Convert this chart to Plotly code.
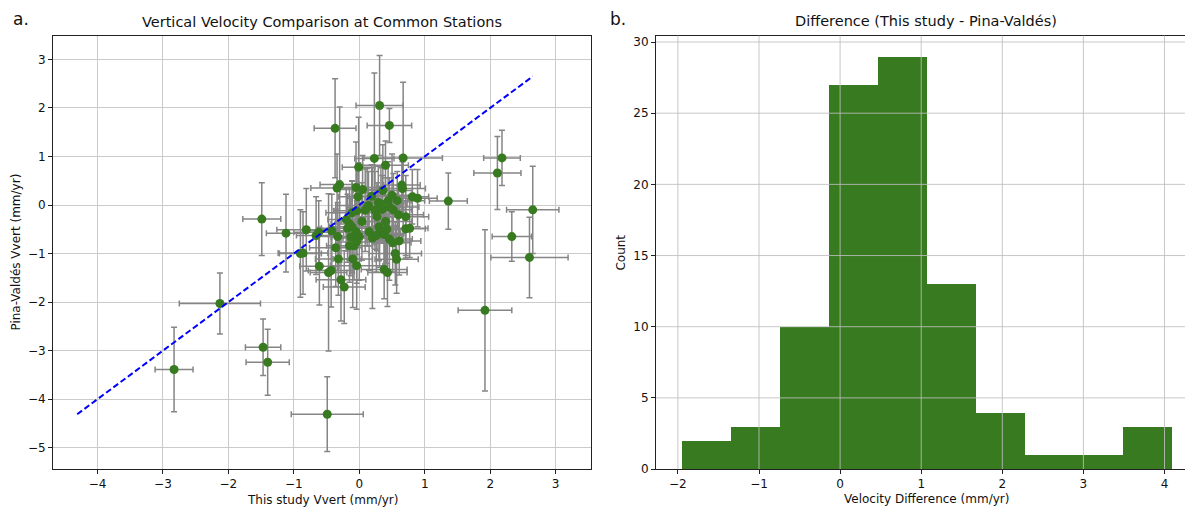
import numpy as np
import plotly.graph_objects as go

# ---------------- data ----------------
this_study = [
    -2.83, -2.13, -1.47, -1.40, -0.49, -1.49, 2.18, 2.11, 2.65, 2.60, 2.33, 1.92, -0.37, 0.46, 0.31,
    0.23, 0.67, -0.01, 0.40, -0.30, -0.34, -0.05, 0.65, 0.66, 0.36,
    -0.02, 0.19, 0.81, 0.89, 1.36, 0.44, 0.58, 0.29, 0.14, 0.09,
    -0.04, -0.11, 0.24, 0.35, 0.46, 0.52, 0.71, 0.27, 0.40, 0.04,
    -0.15, -0.11, -0.18, -1.12, -0.81, -0.62, -0.66, -0.42, -0.33, 0.71,
    0.77, 0.20, 0.31, 0.38, 0.46, 0.26, 0.51, 0.61, -0.13, 0.00,
    -0.15, -0.04, -0.08, -0.36, -0.90, -0.86, -0.32, -0.10, 0.55, 0.57,
    -0.61, -0.43, -0.47, -0.04, 0.38, 0.43, -0.28, -0.23,
    0.05, 0.12, 0.33, -0.20, 0.50, 0.30, 0.15, 0.60, -0.05, 0.42,
]
pina_valdes = [
    -3.39, -2.03, -2.93, -3.24, -4.31, -0.29, 0.97, 0.66, -0.10, -1.08, -0.65, -2.17, 1.58, 1.64, 2.05,
    0.96, 0.97, 0.78, 0.82, 0.42, 0.35, 0.36, 0.41, 0.34, 0.30,
    0.17, 0.18, 0.17, 0.14, 0.08, 0.09, 0.09, 0.05, -0.01, -0.11,
    -0.12, -0.16, -0.11, -0.09, -0.04, -0.10, -0.24, -0.24, -0.34, -0.34,
    -0.39, -0.45, -0.48, -0.58, -0.51, -0.56, -0.63, -0.53, -0.65, -0.49,
    -0.48, -0.68, -0.58, -0.61, -0.70, -0.63, -0.78, -0.74, -0.66, -0.65,
    -0.84, -0.76, -0.84, -0.88, -1.00, -0.99, -1.11, -1.11, -1.00, -1.12,
    -1.26, -1.35, -1.39, -1.25, -1.33, -1.39, -1.54, -1.69,
    0.32, -0.05, 0.02, -0.30, 0.20, -0.45, -0.55, -0.20, -0.55, -0.50,
]
this_study_err = [
    0.29, 0.62, 0.27, 0.33, 0.55, 0.29, 0.28, 0.36, 0.40, 0.59, 0.30, 0.41, 0.32, 0.34, 0.36,
    0.30, 0.60, 0.25, 0.35, 0.30, 0.40, 0.32, 0.28, 0.35, 0.45,
    0.30, 0.38, 0.25, 0.30, 0.29, 0.35, 0.42, 0.30, 0.50, 0.28,
    0.35, 0.40, 0.30, 0.33, 0.45, 0.28, 0.35, 0.30, 0.40, 0.32,
    0.28, 0.35, 0.40, 0.30, 0.45, 0.38, 0.30, 0.40, 0.35, 0.30,
    0.28, 0.45, 0.32, 0.30, 0.35, 0.40, 0.28, 0.33, 0.30, 0.42,
    0.35, 0.30, 0.28, 0.40, 0.32, 0.38, 0.35, 0.30, 0.40, 0.33,
    0.30, 0.35, 0.28, 0.40, 0.35, 0.30, 0.38, 0.32,
    0.35, 0.30, 0.40, 0.28, 0.33, 0.30, 0.35, 0.38, 0.30, 0.32,
]
pina_valdes_err = [
    0.87, 0.63, 0.58, 0.68, 0.77, 0.75, 0.57, 0.75, 0.90, 0.83, 0.51, 1.66, 1.02, 0.35, 1.03,
    1.76, 1.56, 1.03, 0.50, 1.60, 0.70, 0.94, 0.60, 0.55, 0.94,
    0.70, 0.65, 0.56, 0.59, 0.58, 0.80, 0.60, 0.75, 0.70, 0.85,
    0.90, 0.65, 0.80, 0.70, 0.60, 0.75, 0.85, 0.70, 0.90, 0.80,
    0.75, 0.95, 0.70, 0.80, 0.85, 0.65, 0.80, 0.75, 0.70, 0.55,
    0.60, 1.45, 0.70, 0.65, 0.85, 0.75, 0.60, 0.70, 0.80, 0.90,
    0.75, 0.85, 0.70, 0.80, 0.90, 0.85, 0.75, 1.00, 0.65, 0.70,
    0.80, 0.75, 1.62, 0.90, 0.60, 0.70, 0.85, 0.75,
    0.70, 0.80, 0.75, 0.65, 0.85, 0.70, 0.80, 0.60, 0.75, 0.70,
]
n_bins = 10

left_xticks = [-4, -3, -2, -1, 0, 1, 2, 3]
left_yticks = [-5, -4, -3, -2, -1, 0, 1, 2, 3]
right_xticks = [-2, -1, 0, 1, 2, 3, 4]
right_yticks = [0, 5, 10, 15, 20, 25, 30]

# ---------------- figure ----------------
# the page body has an 8px margin, so the figure is 8px smaller and all
# screen positions below are given in screen pixels, then shifted by 8px
OFF = 8
W, H = 1193 - OFF, 516 - OFF
GREEN = "#377a1f"
FONT = "DejaVu Sans"
GRID = "#cbcbcb"


def px(x):
    return (x - OFF) / W


def py(y):
    return 1 - (y - OFF) / H


xs = np.array(this_study)
ys = np.array(pina_valdes)

fig = go.Figure()

fig.add_trace(go.Scatter(
    x=xs, y=ys, mode="markers",
    marker=dict(color=GREEN, size=9, line=dict(width=0)),
    error_x=dict(type="data", array=this_study_err, color="#858585", thickness=1.5, width=3),
    error_y=dict(type="data", array=pina_valdes_err, color="#858585", thickness=1.5, width=3),
    xaxis="x", yaxis="y", showlegend=False, hoverinfo="skip",
))

lo = float(min(xs.min(), ys.min()))
hi = float(max(xs.max(), ys.max()))
fig.add_trace(go.Scatter(
    x=[lo, hi], y=[lo, hi], mode="lines",
    line=dict(color="#0000ff", width=2, dash="6px,3px"),
    xaxis="x", yaxis="y", showlegend=False, hoverinfo="skip",
))

diff = xs - ys
counts, edges = np.histogram(diff, bins=n_bins)
centers = (edges[:-1] + edges[1:]) / 2
fig.add_trace(go.Bar(
    x=centers, y=counts, width=np.diff(edges),
    marker=dict(color=GREEN, line=dict(width=0)),
    xaxis="x2", yaxis="y2", showlegend=False, hoverinfo="skip",
))

ydom = [py(475.5), py(36)]
tickfont = dict(family=FONT, size=12, color="#111")
common = dict(ticks="outside", ticklen=4, tickcolor="#222", tickwidth=1,
              showline=True, linecolor="#222", linewidth=1,
              zeroline=False, tickfont=tickfont, fixedrange=True)

fig.update_layout(
    width=W, height=H,
    margin=dict(l=0, r=0, t=0, b=0),
    paper_bgcolor="white", plot_bgcolor="white",
    bargap=0,
    xaxis=dict(domain=[px(53), px(591)], range=[-4.68, 3.54], tickvals=left_xticks,
               showgrid=True, gridcolor=GRID, gridwidth=1, mirror=True, anchor="y", **common),
    yaxis=dict(domain=ydom, range=[-5.44, 3.49], tickvals=left_yticks,
               showgrid=True, gridcolor=GRID, gridwidth=1, mirror=True, anchor="x", **common),
    xaxis2=dict(domain=[px(656), 1.0], range=[-2.27, -2.27 + 537 / 81.1], tickvals=right_xticks,
                showgrid=False, mirror=True, anchor="y2", **common),
    yaxis2=dict(domain=ydom, range=[0, 30.45], tickvals=right_yticks,
                showgrid=False, mirror=False, anchor="x2", **common),
)

# grid lines drawn above the bars (as in the reference)
shapes = []
for t in right_xticks:
    shapes.append(dict(type="line", xref="x2", yref="y2 domain", x0=t, x1=t, y0=0, y1=1,
                       line=dict(color="rgba(190,190,190,0.85)", width=1), layer="above"))
for t in right_yticks[1:]:
    shapes.append(dict(type="line", xref="x2 domain", yref="y2", x0=0, x1=1, y0=t, y1=t,
                       line=dict(color="rgba(190,190,190,0.85)", width=1), layer="above"))
fig.update_layout(shapes=shapes)

ann = []


def text(x, y, s, size, anchor="center", angle=0, yanchor="middle"):
    ann.append(dict(x=px(x), y=py(y), xref="paper", yref="paper", text=s, showarrow=False,
                    xanchor=anchor, yanchor=yanchor, textangle=angle, borderpad=0,
                    font=dict(family=FONT, size=size, color="#111")))


text(322, 22, "Vertical Velocity Comparison at Common Stations", 14.5)
text(926, 21, "Difference (This study - Pina-Valdés)", 14.5)
text(12, 8.5, "a.", 17, anchor="left", yanchor="top")
text(609, 8.5, "b.", 17, anchor="left", yanchor="top")
text(322, 507, "This study Vvert (mm/yr)", 12)
text(926, 506, "Velocity Difference (mm/yr)", 12)
text(16, 256, "Pina-Valdés Vvert (mm/yr)", 12, angle=-90)
text(621, 256, "Count", 12, angle=-90)
fig.update_layout(annotations=ann)

fig.write_html("out.html")
